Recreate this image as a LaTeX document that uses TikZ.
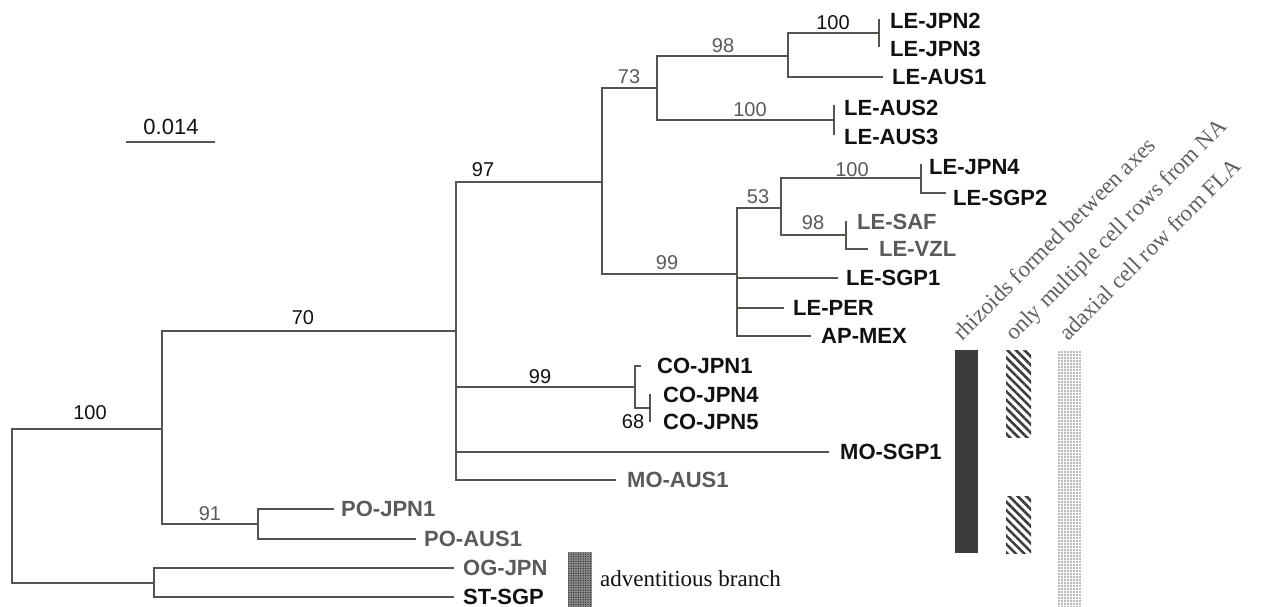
\documentclass[tikz,border=0pt]{standalone}
\usepackage{fontspec}
\setmainfont{Liberation Serif}
\setsansfont{Liberation Sans}
\usetikzlibrary{patterns.meta}
\definecolor{branchcol}{HTML}{55554D}
\definecolor{graytxt}{HTML}{5A5A5A}
\definecolor{blacktxt}{HTML}{111111}
\definecolor{rottxt}{HTML}{606060}
\definecolor{barcol}{HTML}{3C3C3C}
\begin{document}
\begin{tikzpicture}[x=1pt,y=-1pt,
  br/.style={draw=branchcol,line width=2.6pt,line cap=rect},
  leaf/.style={anchor=west,inner sep=0pt,text=blacktxt,font=\sffamily\bfseries\fontsize{22}{24}\selectfont},
  leafg/.style={leaf,text=graytxt},
  bs/.style={inner sep=0pt,text=blacktxt,font=\sffamily\fontsize{20}{22}\selectfont},
  bsg/.style={bs,text=graytxt},
  rottext/.style={anchor=base west,inner sep=0pt,rotate=45,text=rottxt,font=\fontsize{23}{25}\selectfont},
  note/.style={anchor=west,inner sep=0pt,text=blacktxt,font=\fontsize{23}{25}\selectfont}]
\useasboundingbox (0,0) rectangle (1262,607);
% internal nodes
\coordinate (R) at (12,506);
\coordinate (N1) at (162,429);
\coordinate (A) at (456,331);
\coordinate (B) at (602,182);
\coordinate (C) at (657,88);
\coordinate (D) at (788,56);
\coordinate (E) at (879,33);
\coordinate (F) at (834,120);
\coordinate (G) at (737,274);
\coordinate (H) at (781,208);
\coordinate (I) at (921,178);
\coordinate (J) at (846,235);
\coordinate (K) at (635,387);
\coordinate (L) at (650,408);
\coordinate (P) at (258,524);
\coordinate (O) at (154,583);
% tips
\coordinate (tJPN2) at (879,20);
\coordinate (tJPN3) at (879,46);
\coordinate (tAUS1) at (882,77);
\coordinate (tAUS2) at (834,106);
\coordinate (tAUS3) at (834,134);
\coordinate (tJPN4) at (921,165);
\coordinate (tSGP2) at (945,193);
\coordinate (tSAF) at (846,222);
\coordinate (tVZL) at (867,249);
\coordinate (tSGP1) at (837,278);
\coordinate (tPER) at (783,308);
\coordinate (tMEX) at (810,336);
\coordinate (tCO1) at (640,366);
\coordinate (tCO4) at (650,395);
\coordinate (tCO5) at (650,421);
\coordinate (tMOS) at (828,452);
\coordinate (tMOA) at (615,480);
\coordinate (tPO1) at (333,509);
\coordinate (tPO2) at (415,539);
\coordinate (tOG) at (453,568);
\coordinate (tST) at (453,597);
% branches
\draw[br] (R) |- (N1); \draw[br] (R) |- (O);
\draw[br] (N1) |- (A); \draw[br] (N1) |- (P);
\draw[br] (A) |- (B); \draw[br] (A) |- (K); \draw[br] (A) |- (tMOS); \draw[br] (A) |- (tMOA);
\draw[br] (B) |- (C); \draw[br] (B) |- (G);
\draw[br] (C) |- (D); \draw[br] (C) |- (F);
\draw[br] (D) |- (E); \draw[br] (D) |- (tAUS1);
\draw[br] (E) |- (tJPN2); \draw[br] (E) |- (tJPN3);
\draw[br] (F) |- (tAUS2); \draw[br] (F) |- (tAUS3);
\draw[br] (G) |- (H); \draw[br] (G) |- (tSGP1); \draw[br] (G) |- (tPER); \draw[br] (G) |- (tMEX);
\draw[br] (H) |- (I); \draw[br] (H) |- (J);
\draw[br] (I) |- (tJPN4); \draw[br] (I) |- (tSGP2);
\draw[br] (J) |- (tSAF); \draw[br] (J) |- (tVZL);
\draw[br] (K) |- (tCO1); \draw[br] (K) |- (L);
\draw[br] (L) |- (tCO4); \draw[br] (L) |- (tCO5);
\draw[br] (P) |- (tPO1); \draw[br] (P) |- (tPO2);
\draw[br] (O) |- (tOG); \draw[br] (O) |- (tST);
% leaf labels
\node[leaf] (lJPN2) at (890,21) {LE-JPN2};
\node[leaf] (lJPN3) at (890,49) {LE-JPN3};
\node[leaf] (lAUS1) at (892,77) {LE-AUS1};
\node[leaf] (lAUS2) at (844,108) {LE-AUS2};
\node[leaf] (lAUS3) at (844,137) {LE-AUS3};
\node[leaf] (lJPN4) at (929,167) {LE-JPN4};
\node[leaf] (lSGP2) at (953,198) {LE-SGP2};
\node[leafg] (lSAF) at (857,222) {LE-SAF};
\node[leafg] (lVZL) at (879,249) {LE-VZL};
\node[leaf] (lSGP1) at (846,278) {LE-SGP1};
\node[leaf] (lPER) at (793,308) {LE-PER};
\node[leaf] (lMEX) at (821,336) {AP-MEX};
\node[leaf] (lCO1) at (657,366) {CO-JPN1};
\node[leaf] (lCO4) at (663,395) {CO-JPN4};
\node[leaf] (lCO5) at (663,422) {CO-JPN5};
\node[leaf] (lMOS) at (840,452) {MO-SGP1};
\node[leafg] (lMOA) at (627,480) {MO-AUS1};
\node[leafg] (lPO1) at (341,509) {PO-JPN1};
\node[leafg] (lPO2) at (424,539) {PO-AUS1};
\node[leafg] (lOG) at (463,568) {OG-JPN};
\node[leaf] (lST) at (463,597) {ST-SGP};
% bootstrap values
\node[bs] (b100r) at (90,413) {100};
\node[bs] (b70) at (303,318) {70};
\node[bsg] (b91) at (210,514) {91};
\node[bs] (b97) at (483,170) {97};
\node[bsg] (b73) at (629,77) {73};
\node[bsg] (b98a) at (723,46) {98};
\node[bs] (b100a) at (833,23) {100};
\node[bsg] (b100b) at (750,110) {100};
\node[bsg] (b99a) at (667,263) {99};
\node[bsg] (b53) at (758,197) {53};
\node[bsg] (b100c) at (852,170) {100};
\node[bsg] (b98b) at (813,223) {98};
\node[bs] (b99b) at (540,377) {99};
\node[bs] (b68) at (633,422) {68};
% scale bar
\coordinate (s1) at (126,142);
\coordinate (s2) at (215,142);
\draw[draw=branchcol,line width=2.8pt] (s1) -- (s2);
\node[bs,font=\sffamily\fontsize{22}{24}\selectfont] (scale) at (171,127) {0.014};
% character bars
\fill[barcol] (955,350) rectangle (978,553);
\fill[pattern={Lines[angle=-45,distance=6pt,line width=2.6pt]},pattern color=barcol] (1006,350) rectangle (1031,437);
\fill[pattern={Lines[angle=-45,distance=6pt,line width=2.6pt]},pattern color=barcol] (1006,496) rectangle (1031,553);
\fill[pattern={Dots[distance=3pt,radius=0.9pt]},pattern color=black!55] (1057,350) rectangle (1082,607);
\node[rottext] (t1) at (962,342) {rhizoids formed between axes};
\node[rottext] (t2) at (1014,342) {only multiple cell rows from NA};
\node[rottext] (t3) at (1068,342) {adaxial cell row from FLA};
% adventitious branch
\fill[black!45] (568,552) rectangle (592,607);
\fill[pattern={Dots[distance=2.4pt,radius=0.7pt]},pattern color=black!85] (568,552) rectangle (592,607);
\node[note] (adv) at (600,579) {adventitious branch};
\end{tikzpicture}
\end{document}
